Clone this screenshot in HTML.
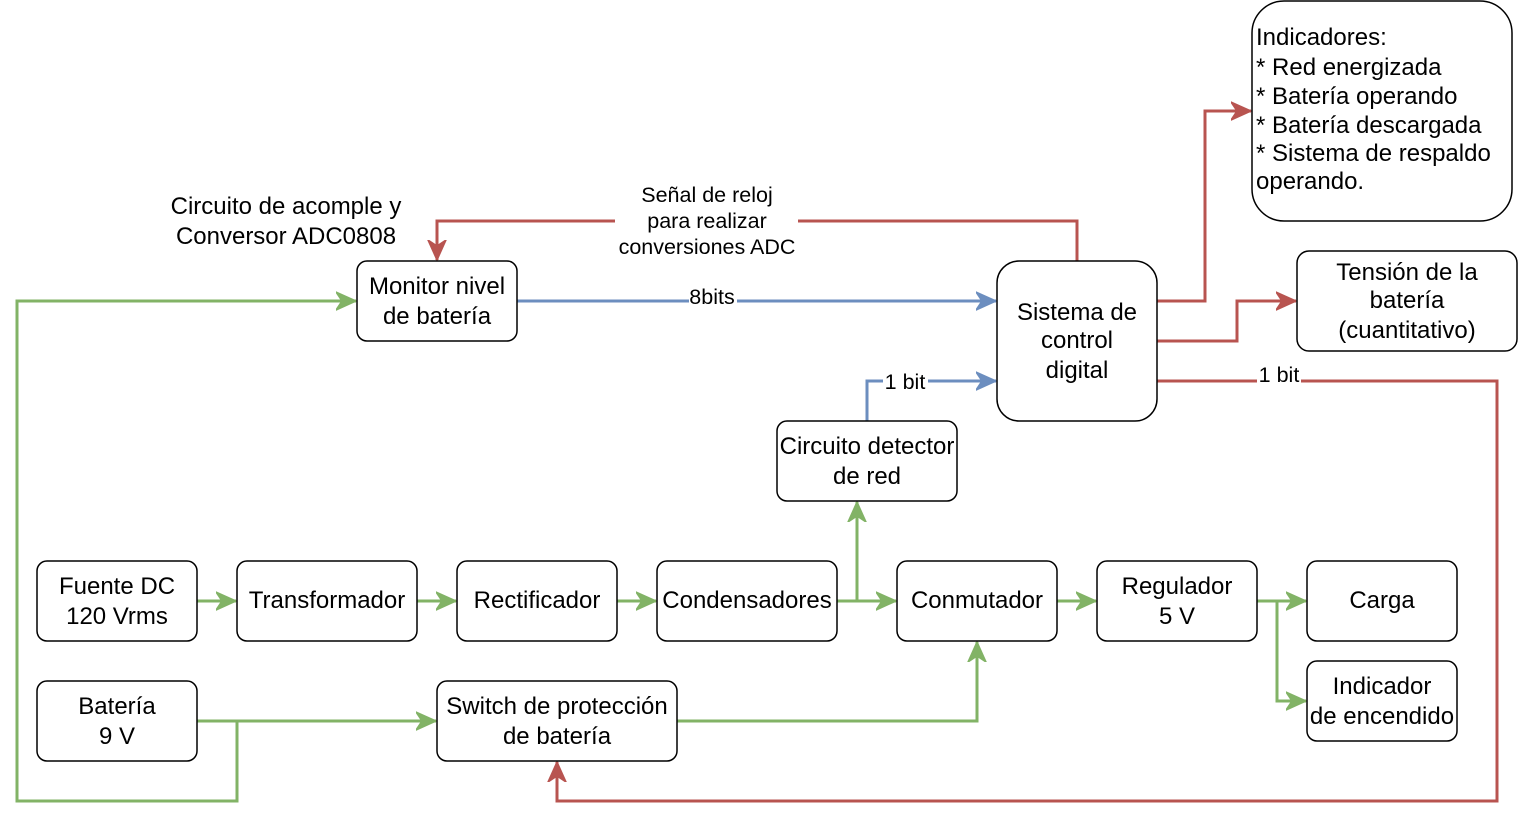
<!DOCTYPE html>
<html><head><meta charset="utf-8"><style>
html,body{margin:0;padding:0;background:#fff;}
svg{display:block;font-family:"Liberation Sans",sans-serif;}
.n{fill:#fff;stroke:#000;stroke-width:1.5;}
.t{font-size:24px;text-anchor:middle;fill:#000;}
.l{font-size:21.5px;text-anchor:middle;fill:#000;}
.g{stroke:#82b366;stroke-width:3;fill:none;}
.r{stroke:#b85450;stroke-width:3;fill:none;}
.b{stroke:#6c8ebf;stroke-width:3;fill:none;}
</style></head><body>
<svg width="1518" height="820" viewBox="0 0 1518 820">
<defs>
<marker id="ag" markerWidth="22" markerHeight="20" refX="20" refY="10" orient="auto" markerUnits="userSpaceOnUse"><path d="M0,1 L20,10 L0,19 L6,10 z" fill="#82b366" stroke="#82b366" stroke-width="1.5" stroke-linejoin="miter"/></marker>
<marker id="ar" markerWidth="22" markerHeight="20" refX="20" refY="10" orient="auto" markerUnits="userSpaceOnUse"><path d="M0,1 L20,10 L0,19 L6,10 z" fill="#b85450" stroke="#b85450" stroke-width="1.5"/></marker>
<marker id="ab" markerWidth="22" markerHeight="20" refX="20" refY="10" orient="auto" markerUnits="userSpaceOnUse"><path d="M0,1 L20,10 L0,19 L6,10 z" fill="#6c8ebf" stroke="#6c8ebf" stroke-width="1.5"/></marker>
</defs>
<!-- green -->
<path class="g" d="M197,601 H236" marker-end="url(#ag)"/>
<path class="g" d="M417,601 H456" marker-end="url(#ag)"/>
<path class="g" d="M617,601 H656" marker-end="url(#ag)"/>
<path class="g" d="M837,601 H896" marker-end="url(#ag)"/>
<path class="g" d="M857,601 V502" marker-end="url(#ag)"/>
<path class="g" d="M1057,601 H1096" marker-end="url(#ag)"/>
<path class="g" d="M1257,601 H1306" marker-end="url(#ag)"/>
<path class="g" d="M1277,601 V701 H1306" marker-end="url(#ag)"/>
<path class="g" d="M197,721 H436" marker-end="url(#ag)"/>
<path class="g" d="M237,721 V801 H17 V301 H356" marker-end="url(#ag)"/>
<path class="g" d="M677,721 H977 V642" marker-end="url(#ag)"/>
<!-- blue -->
<path class="b" d="M517,301 H996" marker-end="url(#ab)"/>
<path class="b" d="M867,421 V381 H996" marker-end="url(#ab)"/>
<!-- red -->
<path class="r" d="M1077,261 V221 H437 V260" marker-end="url(#ar)"/>
<path class="r" d="M1157,301 H1205 V111 H1251" marker-end="url(#ar)"/>
<path class="r" d="M1157,341 H1237 V301 H1296" marker-end="url(#ar)"/>
<path class="r" d="M1157,381 H1497 V801 H557 V762" marker-end="url(#ar)"/>
<!-- labels on edges -->
<rect x="615" y="180" width="183" height="80" fill="#fff"/>
<text class="l" x="707" y="202">Señal de reloj</text>
<text class="l" x="707" y="228">para realizar</text>
<text class="l" x="707" y="254">conversiones ADC</text>
<rect x="689" y="287" width="48" height="22" fill="#fff"/>
<text class="l" x="712" y="304">8bits</text>
<rect x="883" y="371" width="45" height="22" fill="#fff"/>
<text class="l" x="905" y="389">1 bit</text>
<rect x="1257" y="365" width="44" height="22" fill="#fff"/>
<text class="l" x="1279" y="382">1 bit</text>
<text class="t" x="286" y="214">Circuito de acomple y</text>
<text class="t" x="286" y="244">Conversor ADC0808</text>
<!-- nodes -->
<rect class="n" x="37" y="561" width="160" height="80" rx="10"/>
<text class="t" x="117" y="594">Fuente DC</text><text class="t" x="117" y="624">120 Vrms</text>
<rect class="n" x="237" y="561" width="180" height="80" rx="10"/>
<text class="t" x="327" y="608">Transformador</text>
<rect class="n" x="457" y="561" width="160" height="80" rx="10"/>
<text class="t" x="537" y="608">Rectificador</text>
<rect class="n" x="657" y="561" width="180" height="80" rx="10"/>
<text class="t" x="747" y="608">Condensadores</text>
<rect class="n" x="897" y="561" width="160" height="80" rx="10"/>
<text class="t" x="977" y="608">Conmutador</text>
<rect class="n" x="1097" y="561" width="160" height="80" rx="10"/>
<text class="t" x="1177" y="594">Regulador</text><text class="t" x="1177" y="624">5 V</text>
<rect class="n" x="1307" y="561" width="150" height="80" rx="10"/>
<text class="t" x="1382" y="608">Carga</text>
<rect class="n" x="1307" y="661" width="150" height="80" rx="10"/>
<text class="t" x="1382" y="694">Indicador</text><text class="t" x="1382" y="724">de encendido</text>
<rect class="n" x="37" y="681" width="160" height="80" rx="10"/>
<text class="t" x="117" y="714">Batería</text><text class="t" x="117" y="744">9 V</text>
<rect class="n" x="437" y="681" width="240" height="80" rx="10"/>
<text class="t" x="557" y="714">Switch de protección</text><text class="t" x="557" y="744">de batería</text>
<rect class="n" x="777" y="421" width="180" height="80" rx="10"/>
<text class="t" x="867" y="454">Circuito detector</text><text class="t" x="867" y="484">de red</text>
<rect class="n" x="357" y="261" width="160" height="80" rx="10"/>
<text class="t" x="437" y="294">Monitor nivel</text><text class="t" x="437" y="324">de batería</text>
<rect class="n" x="997" y="261" width="160" height="160" rx="22"/>
<text class="t" x="1077" y="320">Sistema de</text><text class="t" x="1077" y="348">control</text><text class="t" x="1077" y="378">digital</text>
<rect class="n" x="1297" y="251" width="220" height="100" rx="12"/>
<text class="t" x="1407" y="280">Tensión de la</text><text class="t" x="1407" y="308">batería</text><text class="t" x="1407" y="338">(cuantitativo)</text>
<rect class="n" x="1252" y="1" width="260" height="220" rx="32"/>
<g style="font-size:24px" fill="#000">
<text x="1256" y="45">Indicadores:</text>
<text x="1256" y="75">* Red energizada</text>
<text x="1256" y="104">* Batería operando</text>
<text x="1256" y="133">* Batería descargada</text>
<text x="1256" y="161">* Sistema de respaldo</text>
<text x="1256" y="189">operando.</text>
</g>
</svg>
</body></html>
